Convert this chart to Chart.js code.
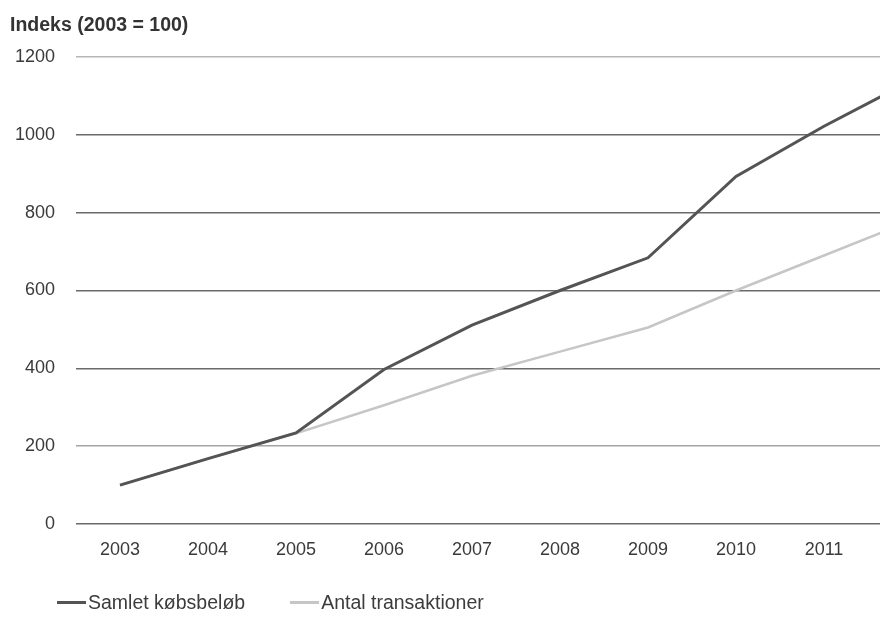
<!DOCTYPE html>
<html>
<head>
<meta charset="utf-8">
<script src="https://cdn.jsdelivr.net/npm/chart.js@4/dist/chart.umd.min.js"></script>
<style>
  html, body { margin: 0; padding: 0; background: #fff; overflow: hidden; }
  #wrap { position: relative; width: 880px; height: 618px; overflow: hidden; font-family: "Liberation Sans", Arial, sans-serif; }
  #box { position: absolute; left: 0; top: 0; width: 960px; height: 618px; }
  #title { position: absolute; left: 10px; top: 13px; font-size: 19.5px; font-weight: bold; color: #333; }
  #legend { position: absolute; left: 57px; top: 591px; font-size: 19.5px; color: #3c3c3c; display: flex; align-items: center; }
  #legend .item { display: flex; align-items: center; margin-right: 45px; }
  #legend .swatch { display: inline-block; width: 29px; height: 3px; margin-right: 2px; }
</style>
</head>
<body>
<div id="wrap">
  <div id="box"><canvas id="chart"></canvas></div>
  <div id="title">Indeks (2003 = 100)</div>
  <div id="legend"></div>
</div>
<script>
const years = ['2003', '2004', '2005', '2006', '2007', '2008', '2009', '2010', '2011', '2012'];
const samletKobsbelob = [100, 168, 234, 397, 511, 600, 684, 893, 1022, 1140];
const antalTransaktioner = [100, 168, 233, 305, 381, 443, 505, 600, 690, 780];
const yTicks = [0, 200, 400, 600, 800, 1000, 1200];

const fontFamily = '"Liberation Sans", Arial, sans-serif';
const seriesColors = ['#545454', '#c6c6c6'];

function gridColor(ctx) {
  const v = ctx.tick && ctx.tick.value;
  if (v === 1200) return '#b6b6b6';
  if (v === 200) return '#a4a4a4';
  return '#6a6a6a';
}

const chart = new Chart(document.getElementById('chart'), {
  type: 'line',
  data: {
    labels: years,
    datasets: [
      { label: 'Samlet købsbeløb', data: samletKobsbelob, borderColor: seriesColors[0], borderWidth: 3, pointRadius: 0, tension: 0 },
      { label: 'Antal transaktioner', data: antalTransaktioner, borderColor: seriesColors[1], borderWidth: 2.5, pointRadius: 0, tension: 0 }
    ]
  },
  options: {
    responsive: true,
    maintainAspectRatio: false,
    animation: false,
    layout: { padding: { top: 57, right: 4, bottom: 54, left: 0 } },
    plugins: { legend: { display: false }, tooltip: { enabled: false } },
    scales: {
      x: {
        offset: true,
        grid: { display: false },
        border: { display: false },
        ticks: { color: '#3a3a3a', font: { family: fontFamily, size: 18 }, padding: 7, maxRotation: 0, autoSkip: false },
        afterFit: (scale) => { scale.height = 40; }
      },
      y: {
        min: 0,
        max: 1200,
        afterBuildTicks: (scale) => { scale.ticks = yTicks.map((value) => ({ value })); },
        grid: { color: gridColor, lineWidth: 1.5, drawTicks: false },
        border: { display: false },
        ticks: { color: '#3a3a3a', font: { family: fontFamily, size: 18 }, padding: 21, callback: (value) => String(value) },
        afterFit: (scale) => { scale.width = 76; }
      }
    }
  }
});

// legend built from the datasets
const legend = document.getElementById('legend');
chart.data.datasets.forEach((ds) => {
  const item = document.createElement('span');
  item.className = 'item';
  const sw = document.createElement('span');
  sw.className = 'swatch';
  sw.style.background = ds.borderColor;
  item.appendChild(sw);
  item.appendChild(document.createTextNode(ds.label));
  legend.appendChild(item);
});
</script>
</body>
</html>
